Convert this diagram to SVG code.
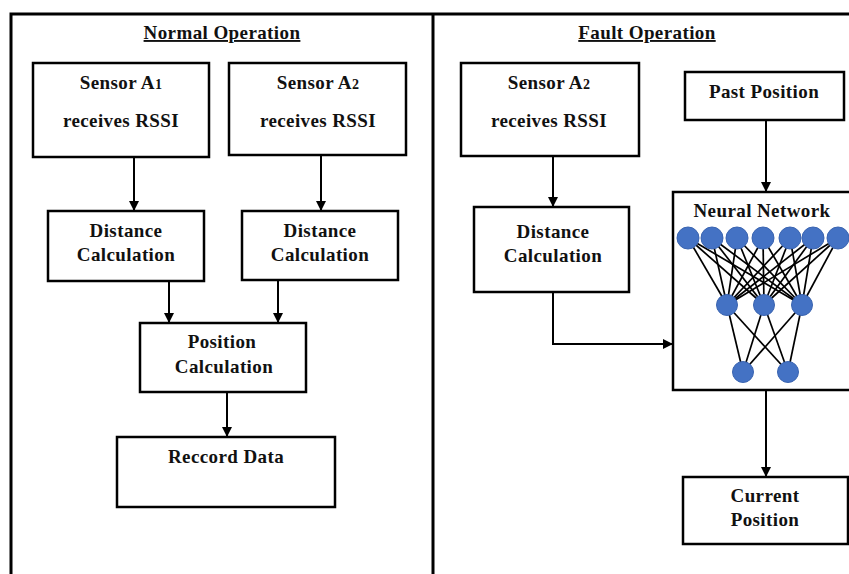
<svg xmlns="http://www.w3.org/2000/svg" width="849" height="574" viewBox="0 0 849 574">
  <style>
    .box { fill: #ffffff; stroke: #000000; stroke-width: 2.5; }
    .frame { fill: none; stroke: #000000; stroke-width: 3; }
    .t { font-family: "Liberation Serif", "Times New Roman", serif; font-weight: bold; font-size: 19px; letter-spacing: 0.4px; text-anchor: middle; fill: #111111; }
    .title { text-decoration: underline; }
    .sub { font-size: 14px; }
    .wire { fill: none; stroke: #000000; stroke-width: 2; }
    .nn { stroke: #000000; stroke-width: 1.7; }
    .neuron { fill: #4472c4; stroke: #3a64b0; stroke-width: 1; }
  </style>
  <defs>
    <marker id="arrow" viewBox="0 0 10 10" refX="10" refY="5" markerWidth="5" markerHeight="5" orient="auto" markerUnits="strokeWidth">
      <path d="M0,0 L10,5 L0,10 Z" fill="#000000"/>
    </marker>
  </defs>
  <rect width="849" height="574" fill="#ffffff"/>

  <!-- outer frame and divider -->
  <g id="frame">
    <path class="frame" d="M11,574 V14 H849"/>
    <path class="frame" d="M433,14 V574"/>
  </g>

  <!-- panel titles -->
  <text class="t title" x="222" y="39">Normal Operation</text>
  <text class="t title" x="647" y="39">Fault Operation</text>

  <!-- connectors -->
  <g id="connectors">
    <path class="wire" d="M134,157 V211" marker-end="url(#arrow)"/>
    <path class="wire" d="M321,155 V211" marker-end="url(#arrow)"/>
    <path class="wire" d="M169,281 V323" marker-end="url(#arrow)"/>
    <path class="wire" d="M278,280 V323" marker-end="url(#arrow)"/>
    <path class="wire" d="M227,392 V437" marker-end="url(#arrow)"/>
    <path class="wire" d="M553,156 V207" marker-end="url(#arrow)"/>
    <path class="wire" d="M766,120 V192" marker-end="url(#arrow)"/>
    <path class="wire" d="M553,292 V344 H673" marker-end="url(#arrow)"/>
    <path class="wire" d="M766,390 V477" marker-end="url(#arrow)"/>
  </g>

  <!-- normal operation -->
  <g id="sensor-a1">
    <rect class="box" x="33" y="63" width="176" height="94"/>
    <text class="t" x="121" y="89">Sensor A<tspan class="sub">1</tspan></text>
    <text class="t" x="121" y="127">receives RSSI</text>
  </g>
  <g id="sensor-a2">
    <rect class="box" x="229" y="63" width="177" height="92"/>
    <text class="t" x="318" y="89">Sensor A<tspan class="sub">2</tspan></text>
    <text class="t" x="318" y="127">receives RSSI</text>
  </g>
  <g id="distance-1">
    <rect class="box" x="48" y="211" width="156" height="70"/>
    <text class="t" x="126" y="237">Distance</text>
    <text class="t" x="126" y="261">Calculation</text>
  </g>
  <g id="distance-2">
    <rect class="box" x="242" y="211" width="156" height="69"/>
    <text class="t" x="320" y="237">Distance</text>
    <text class="t" x="320" y="261">Calculation</text>
  </g>
  <g id="position-calc">
    <rect class="box" x="140" y="323" width="166" height="69"/>
    <text class="t" x="222" y="348">Position</text>
    <text class="t" x="224" y="373">Calculation</text>
  </g>
  <g id="record-data">
    <rect class="box" x="117" y="437" width="218" height="70"/>
    <text class="t" x="226" y="463">Reccord Data</text>
  </g>

  <!-- fault operation -->
  <g id="fault-sensor-a2">
    <rect class="box" x="461" y="63" width="178" height="93"/>
    <text class="t" x="549" y="89">Sensor A<tspan class="sub">2</tspan></text>
    <text class="t" x="549" y="127">receives RSSI</text>
  </g>
  <g id="past-position">
    <rect class="box" x="685" y="72" width="159" height="48"/>
    <text class="t" x="764" y="98">Past Position</text>
  </g>
  <g id="fault-distance">
    <rect class="box" x="474" y="207" width="155" height="85"/>
    <text class="t" x="553" y="238">Distance</text>
    <text class="t" x="553" y="262">Calculation</text>
  </g>
  <g id="neural-network">
    <rect class="box" x="673" y="192" width="180" height="198"/>
    <text class="t" x="762" y="217">Neural Network</text>
    <g class="nn">
      <!-- input to hidden -->
      <line x1="688" y1="238" x2="727" y2="305"/><line x1="688" y1="238" x2="764" y2="305"/><line x1="688" y1="238" x2="802" y2="305"/>
      <line x1="712" y1="238" x2="727" y2="305"/><line x1="712" y1="238" x2="764" y2="305"/><line x1="712" y1="238" x2="802" y2="305"/>
      <line x1="737" y1="238" x2="727" y2="305"/><line x1="737" y1="238" x2="764" y2="305"/><line x1="737" y1="238" x2="802" y2="305"/>
      <line x1="763" y1="238" x2="727" y2="305"/><line x1="763" y1="238" x2="764" y2="305"/><line x1="763" y1="238" x2="802" y2="305"/>
      <line x1="790" y1="238" x2="727" y2="305"/><line x1="790" y1="238" x2="764" y2="305"/><line x1="790" y1="238" x2="802" y2="305"/>
      <line x1="813" y1="238" x2="727" y2="305"/><line x1="813" y1="238" x2="764" y2="305"/><line x1="813" y1="238" x2="802" y2="305"/>
      <line x1="838" y1="238" x2="727" y2="305"/><line x1="838" y1="238" x2="764" y2="305"/><line x1="838" y1="238" x2="802" y2="305"/>
      <!-- hidden to output -->
      <line x1="727" y1="305" x2="743" y2="372"/><line x1="727" y1="305" x2="788" y2="372"/>
      <line x1="764" y1="305" x2="743" y2="372"/><line x1="764" y1="305" x2="788" y2="372"/>
      <line x1="802" y1="305" x2="743" y2="372"/><line x1="802" y1="305" x2="788" y2="372"/>
    </g>
    <g>
      <circle class="neuron" cx="688" cy="238" r="11"/>
      <circle class="neuron" cx="712" cy="238" r="11"/>
      <circle class="neuron" cx="737" cy="238" r="11"/>
      <circle class="neuron" cx="763" cy="238" r="11"/>
      <circle class="neuron" cx="790" cy="238" r="11"/>
      <circle class="neuron" cx="813" cy="238" r="11"/>
      <circle class="neuron" cx="838" cy="238" r="11"/>
      <circle class="neuron" cx="727" cy="305" r="10.5"/>
      <circle class="neuron" cx="764" cy="305" r="10.5"/>
      <circle class="neuron" cx="802" cy="305" r="10.5"/>
      <circle class="neuron" cx="743" cy="372" r="10.5"/>
      <circle class="neuron" cx="788" cy="372" r="10.5"/>
    </g>
  </g>
  <g id="current-position">
    <rect class="box" x="683" y="477" width="165" height="67"/>
    <text class="t" x="765" y="502">Current</text>
    <text class="t" x="765" y="526">Position</text>
  </g>
</svg>
